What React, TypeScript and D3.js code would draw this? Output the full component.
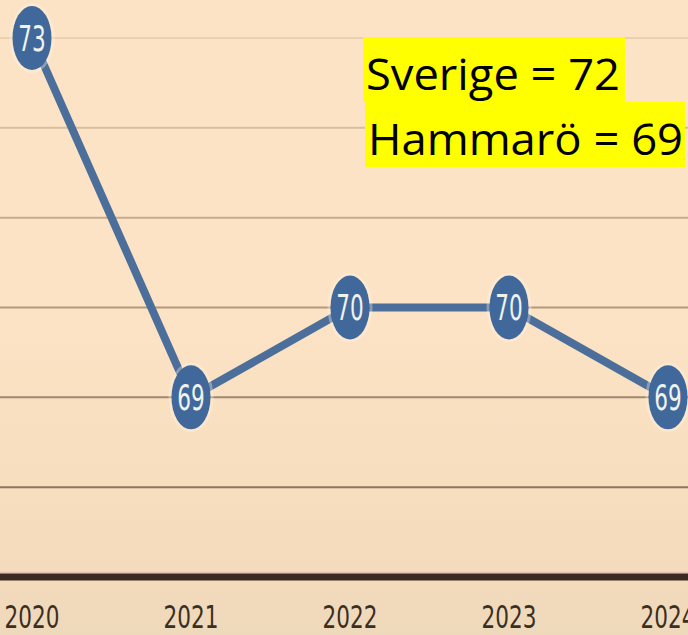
import React, { useEffect } from "react";
import * as d3 from "d3";

const years = ["2020", "2021", "2022", "2023", "2024"];
const values = [73, 69, 70, 70, 69];
const yTicks = [68, 69, 70, 71, 72, 73];
const yBase = 67;
const legendLines = ["Sverige = 72", "Hammarö = 69"];

const W = 688;
const H = 635;

export default function App() {
  useEffect(() => {
    document.body.style.margin = "0";
  }, []);

  const x = d3.scalePoint<string>().domain(years).range([32, 668]);
  const y = d3.scaleLinear().domain([67, 73]).range([577, 38]);
  const line = d3
    .line<number>()
    .x((_, i) => x(years[i]) as number)
    .y((d) => y(d));
  const gridColor = d3.interpolateRgb("#ead0ae", "#8c7660");
  const narrow = "'Liberation Sans Narrow', 'DejaVu Sans Condensed', 'Roboto Condensed', sans-serif";

  const legendBoxes = [
    { x: 363, y: 37, w: 262, h: 65, tl: 254 },
    { x: 365, y: 102, w: 320, h: 65, tl: 315 },
  ];

  return (
    <svg width={W} height={H} style={{ position: "absolute", left: 0, top: 0, display: "block" }}>
      <defs>
        <linearGradient id="bg" x1="0" y1="0" x2="0" y2="1">
          <stop offset="0" stopColor="#fce3c6" />
          <stop offset="0.5" stopColor="#fde3c5" />
          <stop offset="0.9" stopColor="#f3dbbb" />
          <stop offset="1" stopColor="#efd9bb" />
        </linearGradient>
      </defs>
      <rect x={0} y={0} width={W} height={H} fill="url(#bg)" />
      {yTicks.map((t, i) => (
        <line
          key={t}
          x1={0}
          x2={W}
          y1={y(t)}
          y2={y(t)}
          stroke={gridColor(1 - i / (yTicks.length - 1))}
          strokeWidth={2}
        />
      ))}
      <line x1={0} x2={W} y1={y(yBase) - 4.5} y2={y(yBase) - 4.5} stroke="#e9c2b4" strokeWidth={1.5} />
      <line x1={0} x2={W} y1={y(yBase)} y2={y(yBase)} stroke="#3b2a1f" strokeWidth={7} />
      <path d={line(values) || ""} fill="none" stroke="#4b6f9a" strokeWidth={8} strokeLinejoin="round" />
      {values.map((v, i) => {
        const cx = x(years[i]) as number;
        const cy = y(v);
        return (
          <g key={i}>
            <ellipse cx={cx} cy={cy} rx={21} ry={33.5} fill="none" stroke="#fff4e6" strokeOpacity={0.35} strokeWidth={3} />
            <ellipse cx={cx} cy={cy} rx={19.5} ry={32} fill="#41689a" />
            <g transform={`translate(${cx},${cy}) scale(1,1.45)`}>
              <text
                x={0}
                y={0}
                dy="0.36em"
                textAnchor="middle"
                fontFamily={narrow}
                fontSize={24}
                fill="#eef3ee"
              >
                {v}
              </text>
            </g>
          </g>
        );
      })}
      {years.map((yr) => (
        <g key={yr} transform={`translate(${x(yr)},628) scale(1,1.3)`}>
          <text x={0} y={0} textAnchor="middle" fontFamily={narrow} fontSize={24} fill="#3a2f22">
            {yr}
          </text>
        </g>
      ))}
      {legendLines.map((t, i) => {
        const b = legendBoxes[i];
        return (
          <g key={t}>
            <rect x={b.x} y={b.y} width={b.w} height={b.h} fill="#ffff00" />
            <text
              x={b.x + 3}
              y={b.y + 53}
              fontFamily="'Open Sans', Lato, sans-serif"
              fontSize={44}
              fill="#000"
              textLength={b.tl}
              lengthAdjust="spacingAndGlyphs"
            >
              {t}
            </text>
          </g>
        );
      })}
    </svg>
  );
}
